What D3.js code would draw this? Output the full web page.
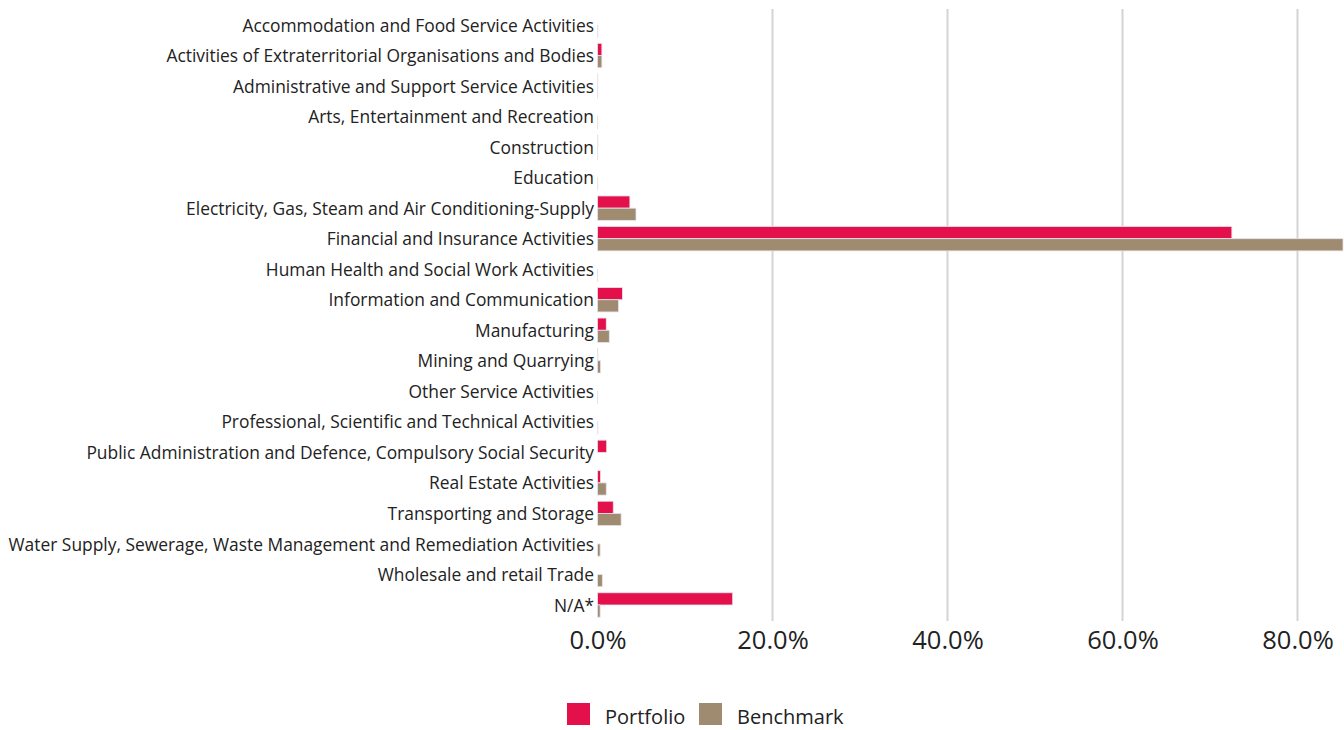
<!DOCTYPE html>
<html>
<head>
<meta charset="utf-8">
<script src="https://cdn.jsdelivr.net/npm/d3@7"></script>
<style>
  html, body { margin: 0; padding: 0; background: #fff; }
  svg { display: block; font-family: "Open Sans", "Noto Sans", sans-serif; }
</style>
</head>
<body>
<svg id="chart" width="1344" height="730"></svg>
<script>
// Sector allocation, in percent of assets
const categories = [
  "Accommodation and Food Service Activities",
  "Activities of Extraterritorial Organisations and Bodies",
  "Administrative and Support Service Activities",
  "Arts, Entertainment and Recreation",
  "Construction",
  "Education",
  "Electricity, Gas, Steam and Air Conditioning-Supply",
  "Financial and Insurance Activities",
  "Human Health and Social Work Activities",
  "Information and Communication",
  "Manufacturing",
  "Mining and Quarrying",
  "Other Service Activities",
  "Professional, Scientific and Technical Activities",
  "Public Administration and Defence, Compulsory Social Security",
  "Real Estate Activities",
  "Transporting and Storage",
  "Water Supply, Sewerage, Waste Management and Remediation Activities",
  "Wholesale and retail Trade",
  "N/A*"
];
const portfolio = [0, 0.5, 0.02, 0, 0.05, 0, 3.7, 72.5, 0, 2.85, 1.0, 0.05, 0, 0, 1.05, 0.35, 1.8, 0, 0, 15.45];
const benchmark = [0.05, 0.5, 0.03, 0.02, 0.02, 0.02, 4.4, 85.2, 0.02, 2.4, 1.35, 0.35, 0.02, 0.05, 0, 1.0, 2.7, 0.3, 0.55, 0.3];
const seriesNames = ["Portfolio", "Benchmark"];
const seriesColors = ["#e4104b", "#9f8b70"];
const tickValues = [0, 20, 40, 60, 80];

const svg = d3.select("#chart");

const x = d3.scaleLinear().domain([0, 85.2]).range([597.5, 1343]);
const y = d3.scaleBand().domain(categories).range([9.75, 620.25])
  .paddingInner(0.2).paddingOuter(0.1);
const ySub = d3.scaleBand().domain(seriesNames).range([0, y.bandwidth()]);

// vertical gridlines
svg.append("g").selectAll("line")
  .data(tickValues.filter(d => d > 0))
  .join("line")
  .attr("x1", d => x(d)).attr("x2", d => x(d))
  .attr("y1", 9).attr("y2", 621)
  .attr("stroke", "#d4d4d4").attr("stroke-width", 2);

// bars
const rows = categories.map((c, i) => ({ c, vals: [portfolio[i], benchmark[i]] }));
const groups = svg.append("g").selectAll("g")
  .data(rows).join("g")
  .attr("transform", d => `translate(0,${y(d.c)})`);
groups.selectAll("rect")
  .data(d => d.vals.map((v, k) => ({ v, k })))
  .join("rect")
  .attr("x", x(0))
  .attr("y", d => ySub(seriesNames[d.k]))
  .attr("width", d => x(d.v) - x(0))
  .attr("height", ySub.bandwidth())
  .attr("fill", d => seriesColors[d.k])
  .attr("stroke", d => d.v > 0 ? "#e6e4ee" : "none")
  .attr("stroke-width", 0.8);

// category axis
const yAxis = d3.axisLeft(y).tickSize(0).tickPadding(0);
const gy = svg.append("g").attr("transform", `translate(594,1)`).call(yAxis);
gy.select(".domain").remove();
gy.selectAll("text").attr("font-size", 17.4).attr("fill", "#222")
  .attr("font-family", "'Open Sans', sans-serif");

// value axis
const xAxis = d3.axisBottom(x).tickValues(tickValues).tickSize(0).tickPadding(0)
  .tickFormat(d => d3.format(".1f")(d) + "%");
const gx = svg.append("g").attr("transform", `translate(0,622)`).call(xAxis);
gx.select(".domain").remove();
gx.selectAll("text").attr("font-size", 25.5).attr("fill", "#222")
  .attr("dy", "1.05em")
  .attr("font-family", "'Open Sans', sans-serif");

// legend
const legend = svg.append("g");
const legendX = [567, 699];
seriesNames.forEach((name, i) => {
  legend.append("rect").attr("x", legendX[i]).attr("y", 703)
    .attr("width", 23).attr("height", 22).attr("fill", seriesColors[i]);
  legend.append("text").attr("x", legendX[i] + 38).attr("y", 724)
    .attr("font-size", 20).attr("fill", "#222").text(name);
});
</script>
</body>
</html>
